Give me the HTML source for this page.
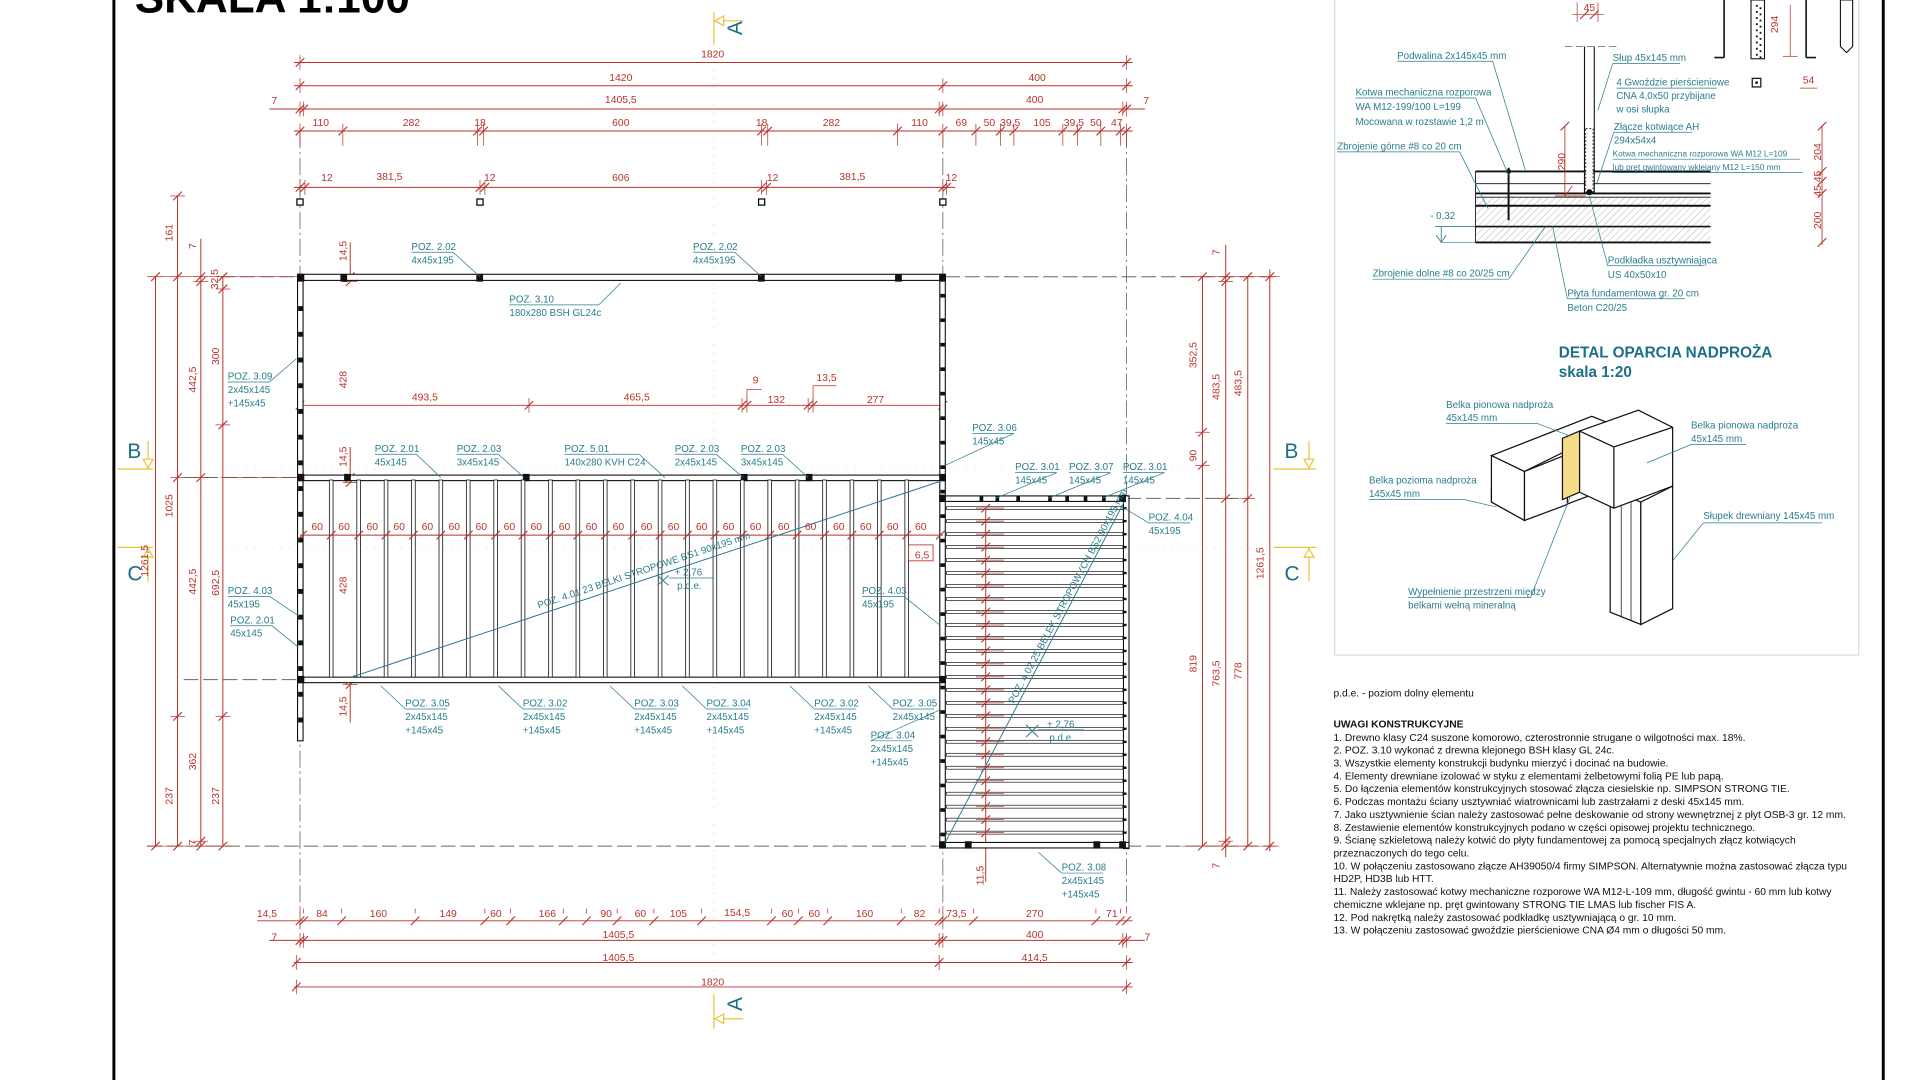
<!DOCTYPE html>
<html><head><meta charset="utf-8"><style>
html,body{margin:0;padding:0;background:#fff;overflow:hidden}
svg{display:block}
text{font-family:"Liberation Sans Narrow","Liberation Sans",sans-serif}
.t{fill:#2a7d8e;font-size:8px}
.r{fill:#b8322a;font-size:8.5px}
.n{fill:#111;font-size:8.4px;font-family:"Liberation Sans",sans-serif}
</style></head><body>
<svg id="s" width="1920" height="1080" viewBox="0 0 1568 882" xmlns="http://www.w3.org/2000/svg">
<rect width="1568" height="882" fill="#fff"/>
<line x1="93" y1="0" x2="93" y2="882" stroke="#000" stroke-width="2.4"/>
<line x1="1538" y1="0" x2="1538" y2="882" stroke="#000" stroke-width="2.4"/>
<text x="110" y="10" style="font:bold 36px 'Liberation Sans',sans-serif">SKALA 1:100</text>
<g id="g"></g>

<g class="r" text-anchor="middle">
<text x="582" y="47">1820</text>
<text x="507" y="66">1420</text><text x="847" y="66">400</text>
<text x="224" y="85">7</text><text x="507" y="84">1405,5</text><text x="845" y="84">400</text><text x="936" y="85">7</text>
<text x="262" y="103">110</text><text x="336" y="103">282</text><text x="392" y="103">18</text><text x="507" y="103">600</text><text x="622" y="103">18</text><text x="679" y="103">282</text><text x="751" y="103">110</text><text x="785" y="103">69</text><text x="808" y="103">50</text><text x="825" y="103">39,5</text><text x="851" y="103">105</text><text x="877" y="103">39,5</text><text x="895" y="103">50</text><text x="912" y="103">47</text>
<text x="267" y="148">12</text><text x="318" y="147">381,5</text><text x="400" y="148">12</text><text x="507" y="148">606</text><text x="631" y="148">12</text><text x="696" y="147">381,5</text><text x="777" y="148">12</text>
<text x="347" y="327">493,5</text><text x="520" y="327">465,5</text><text x="617" y="313">9</text><text x="634" y="329">132</text><text x="675" y="311">13,5</text><text x="715" y="329">277</text>
<text x="753" y="456">6,5</text>
<text x="218" y="749">14,5</text><text x="263" y="749">84</text><text x="309" y="749">160</text><text x="366" y="749">149</text><text x="405" y="749">60</text><text x="447" y="749">166</text><text x="495" y="749">90</text><text x="523" y="749">60</text><text x="554" y="749">105</text><text x="602" y="748">154,5</text><text x="643" y="749">60</text><text x="665" y="749">60</text><text x="706" y="749">160</text><text x="751" y="749">82</text><text x="781" y="749">73,5</text><text x="845" y="749">270</text><text x="908" y="749">71</text>
<text x="224" y="768">7</text><text x="505" y="766">1405,5</text><text x="845" y="766">400</text><text x="937" y="768">7</text>
<text x="505" y="785">1405,5</text><text x="845" y="785">414,5</text>
<text x="582" y="805">1820</text>
</g>
<g class="r" text-anchor="middle"><text x="259" y="433">60</text><text x="281" y="433">60</text><text x="304" y="433">60</text><text x="326" y="433">60</text><text x="349" y="433">60</text><text x="371" y="433">60</text><text x="393" y="433">60</text><text x="416" y="433">60</text><text x="438" y="433">60</text><text x="461" y="433">60</text><text x="483" y="433">60</text><text x="505" y="433">60</text><text x="528" y="433">60</text><text x="550" y="433">60</text><text x="573" y="433">60</text><text x="595" y="433">60</text><text x="617" y="433">60</text><text x="640" y="433">60</text><text x="662" y="433">60</text><text x="685" y="433">60</text><text x="707" y="433">60</text><text x="729" y="433">60</text><text x="752" y="433">60</text></g>

<g class="r" text-anchor="middle">
<text transform="translate(141,190) rotate(-90)">161</text>
<text transform="translate(160,201) rotate(-90)">7</text>
<text transform="translate(178,228) rotate(-90)">32,5</text>
<text transform="translate(160,310) rotate(-90)">442,5</text>
<text transform="translate(179,291) rotate(-90)">300</text>
<text transform="translate(141,413) rotate(-90)">1025</text>
<text transform="translate(121,458) rotate(-90)">1261,5</text>
<text transform="translate(160,475) rotate(-90)">442,5</text>
<text transform="translate(179,476) rotate(-90)">692,5</text>
<text transform="translate(160,622) rotate(-90)">362</text>
<text transform="translate(141,650) rotate(-90)">237</text>
<text transform="translate(179,650) rotate(-90)">237</text>
<text transform="translate(160,688) rotate(-90)">7</text>
<text transform="translate(283,205) rotate(-90)">14,5</text>
<text transform="translate(283,310) rotate(-90)">428</text>
<text transform="translate(283,373) rotate(-90)">14,5</text>
<text transform="translate(283,478) rotate(-90)">428</text>
<text transform="translate(283,577) rotate(-90)">14,5</text>
<text transform="translate(803,715) rotate(-90)">11,5</text>
<text transform="translate(977,290) rotate(-90)">352,5</text>
<text transform="translate(996,316) rotate(-90)">483,5</text>
<text transform="translate(1014,313) rotate(-90)">483,5</text>
<text transform="translate(977,372) rotate(-90)">90</text>
<text transform="translate(977,542) rotate(-90)">819</text>
<text transform="translate(996,550) rotate(-90)">763,5</text>
<text transform="translate(1014,548) rotate(-90)">778</text>
<text transform="translate(1032,460) rotate(-90)">1261,5</text>
<text transform="translate(996,206) rotate(-90)">7</text>
<text transform="translate(996,707) rotate(-90)">7</text>
</g>

<g fill="#1d6f86" font-family="Liberation Sans,sans-serif" font-size="17">
<text transform="translate(606,23) rotate(-90)" text-anchor="middle">A</text>
<text transform="translate(606,820) rotate(-90)" text-anchor="middle">A</text>
<text x="104" y="374">B</text><text x="1049" y="374">B</text>
<text x="104" y="474">C</text><text x="1049" y="474">C</text>
</g>

<g class="t">
<text x="336" y="204">POZ. 2.02</text><text x="336" y="215">4x45x195</text>
<text x="566" y="204">POZ. 2.02</text><text x="566" y="215">4x45x195</text>
<text x="416" y="247">POZ. 3.10</text><text x="416" y="258">180x280 BSH GL24c</text>
<text x="186" y="310">POZ. 3.09</text><text x="186" y="321">2x45x145</text><text x="186" y="332">+145x45</text>
<text x="306" y="369">POZ. 2.01</text><text x="306" y="380">45x145</text>
<text x="373" y="369">POZ. 2.03</text><text x="373" y="380">3x45x145</text>
<text x="461" y="369">POZ. 5.01</text><text x="461" y="380">140x280 KVH C24</text>
<text x="551" y="369">POZ. 2.03</text><text x="551" y="380">2x45x145</text>
<text x="605" y="369">POZ. 2.03</text><text x="605" y="380">3x45x145</text>
<text x="794" y="352">POZ. 3.06</text><text x="794" y="363">145x45</text>
<text x="829" y="384">POZ. 3.01</text><text x="829" y="395">145x45</text>
<text x="873" y="384">POZ. 3.07</text><text x="873" y="395">145x45</text>
<text x="917" y="384">POZ. 3.01</text><text x="917" y="395">145x45</text>
<text x="938" y="425">POZ. 4.04</text><text x="938" y="436">45x195</text>
<text x="186" y="485">POZ. 4.03</text><text x="186" y="496">45x195</text>
<text x="188" y="509">POZ. 2.01</text><text x="188" y="520">45x145</text>
<text x="704" y="485">POZ. 4.03</text><text x="704" y="496">45x195</text>
<text x="331" y="577">POZ. 3.05</text><text x="331" y="588">2x45x145</text><text x="331" y="599">+145x45</text>
<text x="427" y="577">POZ. 3.02</text><text x="427" y="588">2x45x145</text><text x="427" y="599">+145x45</text>
<text x="518" y="577">POZ. 3.03</text><text x="518" y="588">2x45x145</text><text x="518" y="599">+145x45</text>
<text x="577" y="577">POZ. 3.04</text><text x="577" y="588">2x45x145</text><text x="577" y="599">+145x45</text>
<text x="665" y="577">POZ. 3.02</text><text x="665" y="588">2x45x145</text><text x="665" y="599">+145x45</text>
<text x="729" y="577">POZ. 3.05</text><text x="729" y="588">2x45x145</text>
<text x="711" y="603">POZ. 3.04</text><text x="711" y="614">2x45x145</text><text x="711" y="625">+145x45</text>
<text x="867" y="711">POZ. 3.08</text><text x="867" y="722">2x45x145</text><text x="867" y="733">+145x45</text>
<text x="551" y="470">+ 2,76</text><text x="553" y="481">p.d.e.</text>
<text x="855" y="594">+ 2,76</text><text x="857" y="605">p.d.e.</text>
<text transform="translate(440,497) rotate(-18.4)">POZ. 4.01 23 BELKI STROPOWE BS1 90x195 mm</text>
<text transform="translate(828,575) rotate(-62)">POZ. 4.02 25 BELEK STROPOWYCH BS2 90x195 mm</text>
</g>

<g class="t" font-size="7.3">
<text x="1141" y="48">Podwalina 2x145x45 mm</text>
<text x="1317" y="50">Słup 45x145 mm</text>
<text x="1320" y="70">4 Gwoździe pierścieniowe</text><text x="1320" y="81">CNA 4,0x50 przybijane</text><text x="1320" y="92">w osi słupka</text>
<text x="1107" y="78">Kotwa mechaniczna rozporowa</text><text x="1107" y="90">WA M12-199/100 L=199</text><text x="1107" y="102">Mocowana w rozstawie 1,2 m</text>
<text x="1318" y="106">Złącze kotwiące AH</text><text x="1318" y="117">294x54x4</text>
<text x="1317" y="128" font-size="6.8">Kotwa mechaniczna rozporowa WA M12 L=109</text><text x="1317" y="139" font-size="6.8">lub pręt gwintowany wklejany M12 L=150 mm</text>
<text x="1092" y="122">Zbrojenie górne #8 co 20 cm</text>
<text x="1121" y="226">Zbrojenie dolne #8 co 20/25 cm</text>
<text x="1313" y="215">Podkładka usztywniająca</text><text x="1313" y="227">US 40x50x10</text>
<text x="1280" y="242">Płyta fundamentowa gr. 20 cm</text><text x="1280" y="254">Beton C20/25</text>
<text x="1168" y="179">- 0,32</text>
<text x="1181" y="333">Belka pionowa nadproża</text><text x="1181" y="344">45x145 mm</text>
<text x="1381" y="350">Belka pionowa nadproża</text><text x="1381" y="361">45x145 mm</text>
<text x="1118" y="395">Belka pozioma nadproża</text><text x="1118" y="406">145x45 mm</text>
<text x="1391" y="424">Słupek drewniany 145x45 mm</text>
<text x="1150" y="486">Wypełnienie przestrzeni między</text><text x="1150" y="497">belkami wełną mineralną</text>
</g>
<g class="r" font-size="8" text-anchor="middle">
<text x="1298" y="9">45</text>
<text transform="translate(1278,132) rotate(-90)">290</text>
<text transform="translate(1487,124) rotate(-90)">204</text>
<text transform="translate(1487,150) rotate(-90)">45 45</text>
<text transform="translate(1487,180) rotate(-90)">200</text>
<text transform="translate(1452,20) rotate(-90)">294</text>
<text x="1477" y="68">54</text>
</g>
<text x="1273" y="292" fill="#1d6f86" style="font:bold 12.5px 'Liberation Sans',sans-serif">DETAL OPARCIA NADPROŻA</text>
<text x="1273" y="308" fill="#1d6f86" style="font:bold 12.5px 'Liberation Sans',sans-serif">skala 1:20</text>

<g class="n">
<text x="1089" y="569">p.d.e. - poziom dolny elementu</text>
<text x="1089" y="594" font-weight="bold">UWAGI KONSTRUKCYJNE</text>
<text x="1089" y="605">1. Drewno klasy C24 suszone komorowo, czterostronnie strugane o wilgotności max. 18%.</text>
<text x="1089" y="615.5">2. POZ. 3.10 wykonać z drewna klejonego BSH klasy GL 24c.</text>
<text x="1089" y="626">3. Wszystkie elementy konstrukcji budynku mierzyć i docinać na budowie.</text>
<text x="1089" y="636.5">4. Elementy drewniane izolować w styku z elementami żelbetowymi folią PE lub papą.</text>
<text x="1089" y="647">5. Do łączenia elementów konstrukcyjnych stosować złącza ciesielskie np. SIMPSON STRONG TIE.</text>
<text x="1089" y="657.5">6. Podczas montażu ściany usztywniać wiatrownicami lub zastrzałami z deski 45x145 mm.</text>
<text x="1089" y="668">7. Jako usztywnienie ścian należy zastosować pełne deskowanie od strony wewnętrznej z płyt OSB-3 gr. 12 mm.</text>
<text x="1089" y="678.5">8. Zestawienie elementów konstrukcyjnych  podano w części opisowej projektu technicznego.</text>
<text x="1089" y="689">9. Ścianę szkieletową należy kotwić do płyty fundamentowej za pomocą specjalnych złącz kotwiących</text>
<text x="1089" y="699.5">przeznaczonych do tego celu.</text>
<text x="1089" y="710">10. W połączeniu zastosowano złącze AH39050/4 firmy SIMPSON. Alternatywnie można zastosować złącza typu</text>
<text x="1089" y="720.5">HD2P, HD3B lub HTT.</text>
<text x="1089" y="731">11. Należy zastosować kotwy mechaniczne rozporowe WA M12-L-109 mm, długość gwintu - 60 mm lub kotwy</text>
<text x="1089" y="741.5">chemiczne wklejane np. pręt gwintowany STRONG TIE LMAS lub fischer FIS A.</text>
<text x="1089" y="752">12. Pod nakrętką należy zastosować podkładkę usztywniającą o gr. 10 mm.</text>
<text x="1089" y="762.5">13. W połączeniu zastosować gwoździe pierścieniowe CNA Ø4 mm o długości 50 mm.</text>
</g>
</svg>
<script>
(function(){
var g=document.getElementById("g"),h="";
function L(a,b,c,d,col,w,ex){h+='<line x1="'+a+'" y1="'+b+'" x2="'+c+'" y2="'+d+'" stroke="'+(col||"#000")+'" stroke-width="'+(w||0.8)+'" '+(ex||"")+'/>';}
var R="#b8322a",T="#2a7d8e";
function tk(x,y){L(x-3.5,y+3.5,x+3.5,y-3.5,R,0.9);}
function hd(y,x1,x2,ts,ext){L(x1,y,x2,y,R,0.8);ts.forEach(function(x){tk(x,y);L(x,y-6,x,y+(ext||6),R,0.6);});}
function vd(x,y1,y2,ts){L(x,y1,x,y2,R,0.8);ts.forEach(function(y){tk(x,y);L(x-6,y,x+6,y,R,0.6);});}
var dd='stroke-dasharray="14 3 2 3"';
L(245,107,245,760,"#555",0.6,dd);L(770,107,770,760,"#555",0.6,dd);L(920,107,920,745,"#555",0.6,dd);
L(583,36,583,800,"#bbb",0.5,'stroke-dasharray="1 6"');
var dh='stroke-dasharray="12 4"';
L(180,226,1040,226,"#666",0.8,dh);L(150,390,770,390,"#666",0.8,dh);L(920,407,1020,407,"#666",0.8,dh);L(120,691,1040,691,"#666",0.8,dh);L(150,555,245,555,"#666",0.8,dh);
L(180,383,1060,383,"#ccc",0.5,'stroke-dasharray="1 6"');L(180,447,1060,447,"#ccc",0.5,'stroke-dasharray="1 6"');
hd(51,240,925,[245,920]);hd(70,240,925,[245,770,920]);hd(89,220,935,[245,248,767,770,917,920]);
hd(107,240,925,[245,280,390,395,622,627,733,770,797,817,828,868,880,899,915,920],12);
hd(153,240,780,[245,249,392,396,622,626,770,773]);
hd(752,210,925,[245,248,279,339,396,417,460,479,504,534,573,630,652,676,736,767,770,795,895,915,920],-10);
hd(768,220,935,[245,248,767,770,917,920]);hd(786,240,925,[242,767,920]);hd(806,240,925,[242,920]);
hd(331,245,770,[245,432,606,610,660,664,770]);
L(610,331,610,318,R,0.6);L(610,318,622,318,R,0.6);L(664,331,664,315,R,0.6);L(664,315,683,315,R,0.6);
vd(127,226,691,[226,691]);vd(145,160,691,[160,226,390,585,691]);vd(164,195,691,[226,230,390,687,691]);vd(182,226,691,[226,236,347,585,691]);
L(120,226,245,226,R,0.5);L(120,691,190,691,R,0.5);L(180,390,245,390,R,0.5);
vd(286,198,226,[226,230]);vd(286,365,390,[390,394]);vd(286,555,590,[555,559]);
vd(982,226,691,[226,353,380,691]);vd(1001,200,700,[226,230,407,687,691]);vd(1019,226,691,[226,407,691]);vd(1037,220,695,[226,691]);
L(965,226,1045,226,R,0.5);L(965,691,1045,691,R,0.5);
vd(805,415,720,[]);
[245,392,622,770].forEach(function(x){h+='<rect x="'+(x-2.5)+'" y="162.5" width="5" height="5" fill="#fff" stroke="#000" stroke-width="1"/>';});
function wall(x1,y1,x2,y2){h+='<rect x="'+Math.min(x1,x2)+'" y="'+Math.min(y1,y2)+'" width="'+Math.abs(x2-x1)+'" height="'+Math.abs(y2-y1)+'" fill="#fff" stroke="#111" stroke-width="0.9"/>';}
wall(243,224,772,229);wall(243,224,247.5,605);wall(767.5,224,772,407);
wall(243,388,772,392.5);wall(243,553,772,557.5);wall(767.5,405,772,691);
wall(770,405,922,409.5);wall(917.5,405,922,693);wall(767.5,688,922,692.5);
function blk(x,y,w,hh){h+='<rect x="'+x+'" y="'+y+'" width="'+w+'" height="'+hh+'" fill="#111"/>';}
[[243,224],[278,224],[389,224],[619,224],[731,224],[767,224],[243,387],[281,387],[427,387],[605,387],[658,387],[767,387],[243,552],[767,552],[767,404],[914,404],[767,687],[788,687],[893,687],[914,687]].forEach(function(p){blk(p[0],p[1],5.5,6);});
for(var y=250;y<600;y+=21){blk(243.5,y,4,4);} for(var y=240;y<690;y+=20){blk(768,y,4,3);}
[800,813,830,856,870,885,900].forEach(function(x){blk(x,405,3,4.5);});
for(var i=0;i<22;i++){var x=270.5+i*22.38;h+='<rect x="'+(x-1.5)+'" y="392" width="3" height="161" fill="#fff" stroke="#222" stroke-width="0.7"/>';tk(x,437);}
L(245,437,770,437,R,0.8);tk(247,437);tk(768,437);
for(var i=0;i<26;i++){var y=415+i*10.6;h+='<rect x="773" y="'+(y-1.2)+'" width="144" height="2.4" fill="#fff" stroke="#222" stroke-width="0.6"/>';L(797,y,820,y,R,0.6);tk(805,y);blk(917,y-1,3,2);}
L(287,553,768,393,T,0.8);L(772,688,918,410,T,0.8);
L(537,470,546,478,T,0.8);L(537,478,546,470,T,0.8);L(546,472,583,472,T,0.6);
L(838,592,848,602,T,0.8);L(838,602,848,592,T,0.8);L(848,596,885,596,T,0.6);
h+='<rect x="742" y="445" width="20" height="13" fill="none" stroke="'+R+'" stroke-width="0.7"/>';
function ld(x,y,w,ex,ey){L(x,y+2,x+w,y+2,T,0.6);L(x+w,y+2,ex,ey,T,0.6);}
ld(336,204,34,392,226);ld(566,204,34,622,226);ld(416,247,73,507,231);ld(186,310,34,242,293);
ld(306,369,34,360,390);ld(373,369,34,428,390);ld(461,369,61,543,390);ld(551,369,34,607,390);ld(605,369,34,660,390);
ld(794,352,34,772,380);ld(829,384,34,813,407);ld(873,384,34,856,407);ld(917,384,34,900,407);
L(938,427,972,427,T,0.6);L(938,427,915,413,T,0.6);
ld(186,485,34,244,503);ld(188,509,34,243,528);ld(704,485,34,767,510);
function lu(x,y,w,ex,ey){L(x,y+2,x+w,y+2,T,0.6);L(x,y+2,ex,ey,T,0.6);}
lu(331,577,34,311,560);lu(427,577,34,407,560);lu(518,577,34,498,560);lu(577,577,34,557,560);lu(665,577,34,645,560);lu(729,577,34,709,560);lu(711,603,34,767,580);lu(867,711,34,848,696);
var Y="#e8c43a";
L(583,10,583,36,Y,1);L(583,17,607,17,Y,1);h+='<polygon points="584,17 591,13 591,21" fill="#fff" stroke="'+Y+'"/>';
L(583,812,583,840,Y,1);L(583,832,607,832,Y,1);h+='<polygon points="584,832 591,828 591,836" fill="#fff" stroke="'+Y+'"/>';
L(96,383,125,383,Y,1);L(121,360,121,383,Y,1);h+='<polygon points="121,382 117,375 125,375" fill="#fff" stroke="'+Y+'"/>';
L(1040,383,1075,383,Y,1);L(1069,360,1069,383,Y,1);h+='<polygon points="1069,382 1065,375 1073,375" fill="#fff" stroke="'+Y+'"/>';
L(96,447,125,447,Y,1);L(121,447,121,475,Y,1);h+='<polygon points="121,448 117,455 125,455" fill="#fff" stroke="'+Y+'"/>';
L(1040,447,1075,447,Y,1);L(1069,447,1069,475,Y,1);h+='<polygon points="1069,448 1065,455 1073,455" fill="#fff" stroke="'+Y+'"/>';
h+='<rect x="1090" y="-2" width="428" height="537" fill="none" stroke="#cfe0e4" stroke-width="1"/>';
h+='<defs><pattern id="ht" width="4" height="4" patternUnits="userSpaceOnUse" patternTransform="rotate(45)"><line x1="0" y1="0" x2="0" y2="4" stroke="#999" stroke-width="0.6"/></pattern></defs>';
h+='<rect x="1205" y="161" width="192" height="38" fill="url(#ht)"/>';
[[140,1.5],[150,0.7],[158,1.5],[161,0.7],[168,1.6],[185,1.3],[198,1.6]].forEach(function(a){L(1205,a[0],1397,a[0],"#111",a[1]);});
L(1205,140,1205,198,"#111",0.7);
L(1294,38,1294,158,"#111",0.9);L(1302,38,1302,158,"#111",0.9);L(1278,38,1320,38,"#777",0.7,'stroke-dasharray="6 3"');
h+='<rect x="1295" y="105" width="6" height="52" fill="#fff" stroke="#111" stroke-width="0.7" stroke-dasharray="1.5 1.5"/>';
L(1232,137,1232,180,"#111",1.6);h+='<circle cx="1232" cy="140" r="2" fill="#111"/><circle cx="1298" cy="157" r="2.5" fill="#111"/>';
L(1278,103,1278,160,R,0.7);tk(1278,103);L(1270,160,1295,160,R,0.7);L(1284,152,1278,160,R,0.7);
L(1488,103,1488,200,R,0.7);[103,140,148,158,198].forEach(function(y){tk(1488,y);});
L(1288,2,1288,18,R,0.6);L(1305,2,1305,18,R,0.6);L(1284,12,1310,12,R,0.6);tk(1294,12);tk(1302,12);
L(1172,185,1205,185,T,0.7);L(1177,185,1177,198,T,0.7);L(1173,192,1177,198,T,0.7);L(1181,192,1177,198,T,0.7);L(1177,198,1205,198,T,0.5);
L(1408,0,1408,47,"#111",1.3);L(1400,47,1408,47,"#111",1.3);
h+='<rect x="1430" y="0" width="11" height="48" fill="#fff" stroke="#111" stroke-width="0.9"/>';
for(var y=4;y<46;y+=5){blk(1434,y,1.5,1.5);blk(1437,y+2,1.5,1.5);}
L(1462,4,1462,46,R,0.6);L(1456,46,1468,46,R,0.6);
L(1475,0,1475,47,"#111",1.3);L(1475,47,1483,47,"#111",1.3);
h+='<polygon points="1503,0 1513,0 1513,38 1508,43 1503,38" fill="#fff" stroke="#111" stroke-width="0.9"/>';
h+='<rect x="1431" y="64" width="7" height="7" fill="#fff" stroke="#111"/>';blk(1433.5,66.5,2,2);
L(1470,72,1484,72,R,0.6);
ld(1141,48,78,1246,140);L(1317,52,1372,52,T,0.6);L(1317,52,1305,90,T,0.6);
L(1107,80,1205,80,T,0.6);L(1205,80,1232,143,T,0.6);
L(1092,124,1192,124,T,0.6);L(1192,124,1215,170,T,0.6);
L(1121,228,1232,228,T,0.6);L(1232,228,1262,185,T,0.6);
L(1313,217,1392,217,T,0.6);L(1313,217,1298,160,T,0.6);
L(1280,244,1376,244,T,0.6);L(1280,244,1268,185,T,0.6);
L(1318,108,1382,108,T,0.6);L(1318,108,1304,150,T,0.6);L(1317,130,1470,130,T,0.6);L(1317,141,1472,141,T,0.6);
L(1320,72,1402,72,T,0.6);
var P=function(pts,f){h+='<polygon points="'+pts+'" fill="'+(f||"#fff")+'" stroke="#111" stroke-width="1"/>';};
P("1315,400 1340,410 1340,510 1315,500");P("1340,410 1366,397 1366,497 1340,510");
L(1324,404,1324,504,"#111",0.6);L(1332,407,1332,507,"#111",0.6);
P("1218,410 1245,425 1300,404 1300,395 1245,415 1218,400");
P("1218,372 1245,385 1245,425 1218,410");P("1245,385 1280,371 1280,412 1245,425");
P("1218,372 1300,340 1320,348 1245,385");
P("1276,358 1290,352 1290,402 1276,408","#f3dd86");
P("1290,352 1338,335 1366,349 1366,397 1318,415 1290,402");L(1290,352,1318,365,"#111",1);L(1318,365,1366,349,"#111",1);L(1318,365,1318,415,"#111",1);
L(1181,346,1256,346,T,0.6);L(1256,346,1282,356,T,0.6);L(1381,363,1426,363,T,0.6);L(1381,363,1345,378,T,0.6);
L(1118,408,1196,408,T,0.6);L(1196,408,1222,414,T,0.6);L(1391,427,1488,427,T,0.6);L(1391,427,1366,458,T,0.6);
L(1150,488,1250,488,T,0.6);L(1250,488,1283,404,T,0.6);
g.innerHTML=h;
})();
</script>
</body></html>
